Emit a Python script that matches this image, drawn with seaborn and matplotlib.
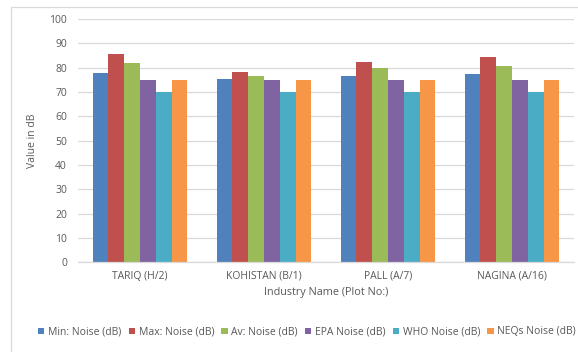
import pandas as pd
import matplotlib.pyplot as plt
import seaborn as sns

# data
industries = ['TARIQ (H/2)', 'KOHISTAN (B/1)', 'PALL (A/7)', 'NAGINA (A/16)']
series = ['Min: Noise (dB)', 'Max: Noise (dB)', 'Av: Noise (dB)',
          'EPA Noise (dB)', 'WHO Noise (dB)', 'NEQs Noise (dB)']
min_noise = [78.0, 75.2, 76.6, 77.2]
max_noise = [85.7, 78.3, 82.5, 84.3]
av_noise = [81.9, 76.6, 79.7, 80.8]
epa_noise = [75, 75, 75, 75]
who_noise = [70, 70, 70, 70]
neqs_noise = [75, 75, 75, 75]
colors = ['#4F81BD', '#C0504D', '#9BBB59', '#8064A2', '#4BACC6', '#F79646']

values = [min_noise, max_noise, av_noise, epa_noise, who_noise, neqs_noise]
rows = []
for name, vals in zip(series, values):
    for ind, v in zip(industries, vals):
        rows.append({'industry': ind, 'series': name, 'value': v})
df = pd.DataFrame(rows)

sns.set_style('white')
plt.rcParams['font.family'] = ['Open Sans', 'DejaVu Sans']
text_color = '#595959'

fig = plt.figure(figsize=(5.78, 3.52), dpi=100)
W, H = 578, 352
ax = fig.add_axes([78 / W, 1 - 262.3 / H, (574 - 78) / W, (262.3 - 19) / H])

sns.barplot(data=df, x='industry', y='value', hue='series', hue_order=series,
            order=industries, palette=colors, width=0.765, ax=ax,
            edgecolor='none', linewidth=0, legend=True, saturation=1)

ax.set_ylim(0, 100)
ax.set_yticks(range(0, 101, 10))
ax.set_xlim(-0.5, 3.5)
ax.yaxis.grid(True, color='#D9D9D9', linewidth=0.9)
ax.set_axisbelow(True)
for side in ['top', 'right', 'left']:
    ax.spines[side].set_visible(False)
ax.spines['bottom'].set_color('#D9D9D9')
ax.spines['bottom'].set_linewidth(0.9)
ax.tick_params(axis='both', length=0, labelsize=7.5, colors=text_color)
ax.tick_params(axis='y', pad=8)
ax.tick_params(axis='x', pad=6)
ax.set_xlabel('Industry Name (Plot No:)', fontsize=7.8, color=text_color, labelpad=4)
ax.set_ylabel('Value in dB', fontsize=7.5, color=text_color, labelpad=8)

handles, labels = ax.get_legend_handles_labels()
ax.get_legend().remove()
fig.legend(handles, labels, loc='center', bbox_to_anchor=(307 / W, 1 - 332 / H),
           ncol=6, frameon=False, fontsize=7.5, handlelength=0.6, handleheight=0.6,
           handletextpad=0.35, columnspacing=0.7, labelcolor=text_color)

# chart frame lines
fig.add_artist(plt.Line2D([11 / W, 1], [1 - 7 / H, 1 - 7 / H], color='#D9D9D9', linewidth=0.9))
fig.add_artist(plt.Line2D([11 / W, 11 / W], [0, 1 - 7 / H], color='#D9D9D9', linewidth=0.9))

fig.savefig('out.png', dpi=100)
